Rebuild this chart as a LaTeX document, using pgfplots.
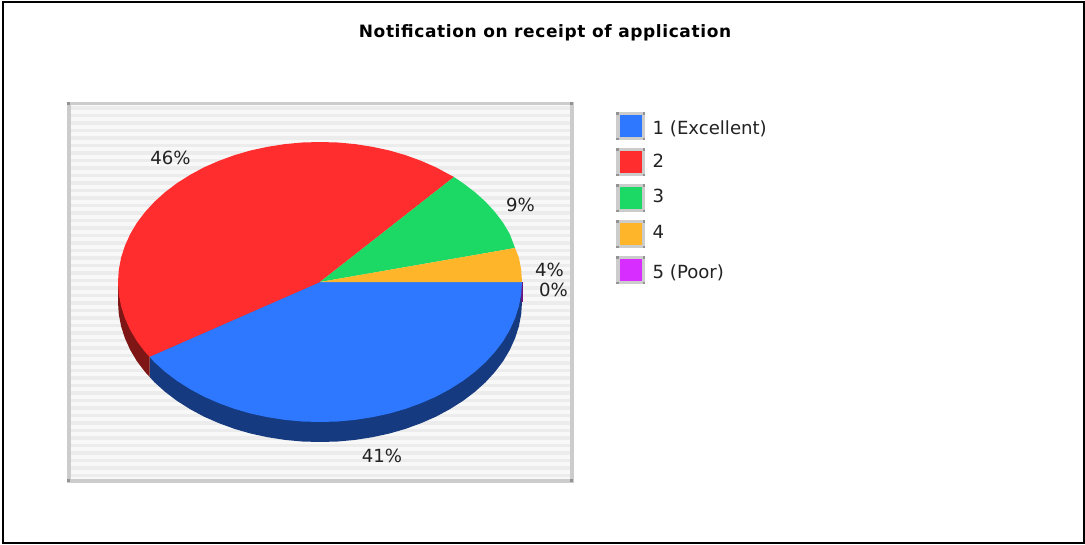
\documentclass[border=0pt]{standalone}
\usepackage{pgfplots}
\pgfplotsset{compat=1.18}
\usepackage{fontspec}
\setmainfont{DejaVu Sans}
\newfontfamily\titlefont[LetterSpace=3.6]{DejaVu Sans Bold}
\definecolor{cblue}{HTML}{2E78FF}
\definecolor{cred}{HTML}{FF2D2D}
\definecolor{cgreen}{HTML}{1BD964}
\definecolor{corange}{HTML}{FFB52A}
\definecolor{cpurple}{HTML}{D82DFF}
\definecolor{dblue}{HTML}{163A80}
\definecolor{dred}{HTML}{7F1616}
\definecolor{dpurple}{HTML}{6C1680}
\definecolor{frameg}{HTML}{CCCCCC}
\definecolor{cornerg}{HTML}{939393}
\definecolor{stripe}{HTML}{ECECEC}
\definecolor{stripebg}{HTML}{F8F8F8}
\definecolor{txt}{HTML}{222222}
\begin{document}
\begin{tikzpicture}
\begin{axis}[
  scale only axis, width=1085pt, height=544pt,
  xmin=0, xmax=1085, ymin=0, ymax=544, y dir=reverse,
  axis lines=none, clip=false,
  every axis plot/.append style={draw=none, forget plot},
]
% page
\addplot[fill=white] coordinates {(0,0)(1085,0)(1085,544)(0,544)} --cycle;
% plot background
\addplot[fill=stripebg] coordinates {(68,102)(572,102)(572,482)(68,482)} --cycle;
\pgfplotsinvokeforeach{108,115.5,123,130.5,138,145.5,153,160.5,168,175.5,183,190.5,198,205.5,213,220.5,228,235.5,243,250.5,258,265.5,273,280.5,288,295.5,303,310.5,318,325.5,333,340.5,348,355.5,363,370.5,378,385.5,393,400.5,408,415.5,423,430.5,438,445.5,453,460.5,468,475.5}{
  \draw[stripe, line width=3.5pt] (axis cs:70,#1) -- (axis cs:570,#1);
}
\addplot[fill=frameg] coordinates {(66.5,101.5)(573.5,101.5)(573.5,105)(66.5,105)} --cycle;
\addplot[fill=frameg] coordinates {(66.5,479)(573.5,479)(573.5,482.5)(66.5,482.5)} --cycle;
\addplot[fill=frameg] coordinates {(66.5,101.5)(70.5,101.5)(70.5,482.5)(66.5,482.5)} --cycle;
\addplot[fill=frameg] coordinates {(569.5,101.5)(573.5,101.5)(573.5,482.5)(569.5,482.5)} --cycle;
\addplot[fill=cornerg] coordinates {(67,102)(70,102)(70,105)(67,105)} --cycle;
\addplot[fill=cornerg] coordinates {(570,102)(573,102)(573,105)(570,105)} --cycle;
\addplot[fill=cornerg] coordinates {(67,479)(70,479)(70,482)(67,482)} --cycle;
\addplot[fill=cornerg] coordinates {(570,479)(573,479)(573,482)(570,482)} --cycle;
% side walls
\addplot[fill=dblue] coordinates {(522,282)(522,302)(521.2,314.2)(518.9,326.3)(515.1,338.2)(509.8,349.9)(503.1,361.2)(494.9,372)(485.5,382.3)(474.7,392)(462.8,401)(449.8,409.2)(435.9,416.7)(421,423.2)(405.4,428.9)(389.1,433.6)(372.3,437.2)(355.1,439.9)(337.6,441.5)(320,442)(302.4,441.5)(284.9,439.9)(267.7,437.2)(250.9,433.6)(234.6,428.9)(219,423.2)(204.1,416.7)(190.2,409.2)(177.2,401)(165.3,392)(154.5,382.3)(149.5,376.8)(149.5,356.8)(320,282)} --cycle;
\addplot[fill=dred] coordinates {(149.5,356.8)(149.5,376.8)(145.1,372)(136.9,361.2)(130.2,349.9)(124.9,338.2)(121.1,326.3)(118.8,314.2)(118,302)(118,282)(320,282)} --cycle;
\addplot[fill=dpurple] coordinates {(520.5,282)(522.5,282)(522.5,302)(520.5,302)} --cycle;
% top slices
\addplot[fill=cblue] coordinates {(320,282)(522,282)(521.2,294.2)(518.9,306.3)(515.1,318.2)(509.8,329.9)(503.1,341.2)(494.9,352)(485.5,362.3)(474.7,372)(462.8,381)(449.8,389.2)(435.9,396.7)(421,403.2)(405.4,408.9)(389.1,413.6)(372.3,417.2)(355.1,419.9)(337.6,421.5)(320,422)(302.4,421.5)(284.9,419.9)(267.7,417.2)(250.9,413.6)(234.6,408.9)(219,403.2)(204.1,396.7)(190.2,389.2)(177.2,381)(165.3,372)(154.5,362.3)(149.5,356.8)} --cycle;
\addplot[fill=cred] coordinates {(320,282)(149.5,356.8)(145.1,352)(136.9,341.2)(130.2,329.9)(124.9,318.2)(121.1,306.3)(118.8,294.2)(118,282)(118.8,269.8)(121.1,257.7)(124.9,245.8)(130.2,234.1)(136.9,222.8)(145.1,212)(154.5,201.7)(165.3,192)(177.2,183)(190.2,174.8)(204.1,167.3)(219,160.8)(234.6,155.1)(250.9,150.4)(267.7,146.8)(284.9,144.1)(302.4,142.5)(320,142)(337.6,142.5)(355.1,144.1)(372.3,146.8)(389.1,150.4)(405.4,155.1)(421,160.8)(435.9,167.3)(449.8,174.8)(454,177)} --cycle;
\addplot[fill=cgreen] coordinates {(320,282)(454,177)(462.8,183)(474.7,192)(485.5,201.7)(494.9,212)(503.1,222.8)(509.8,234.1)(515,248)} --cycle;
\addplot[fill=corange] coordinates {(320,282)(515,248)(518.9,257.7)(521.2,269.8)(522,282)} --cycle;
% legend swatches
\addplot[fill=frameg] coordinates {(616,112)(645,112)(645,140)(616,140)} --cycle;
\addplot[fill=cblue] coordinates {(619.5,115)(641.5,115)(641.5,136.5)(619.5,136.5)} --cycle;
\addplot[fill=frameg] coordinates {(616,148)(645,148)(645,176)(616,176)} --cycle;
\addplot[fill=cred] coordinates {(619.5,151)(641.5,151)(641.5,172.5)(619.5,172.5)} --cycle;
\addplot[fill=frameg] coordinates {(616,184)(645,184)(645,212)(616,212)} --cycle;
\addplot[fill=cgreen] coordinates {(619.5,187)(641.5,187)(641.5,208.5)(619.5,208.5)} --cycle;
\addplot[fill=frameg] coordinates {(616,220)(645,220)(645,248)(616,248)} --cycle;
\addplot[fill=corange] coordinates {(619.5,223)(641.5,223)(641.5,244.5)(619.5,244.5)} --cycle;
\addplot[fill=frameg] coordinates {(616,256)(645,256)(645,284)(616,284)} --cycle;
\addplot[fill=cpurple] coordinates {(619.5,259)(641.5,259)(641.5,280.5)(619.5,280.5)} --cycle;
\pgfplotsinvokeforeach{112,148,184,220,256}{
  \fill[cornerg] (axis cs:616,#1) rectangle (axis cs:618.5,#1+2.5);
  \fill[cornerg] (axis cs:642.5,#1) rectangle (axis cs:645,#1+2.5);
  \fill[cornerg] (axis cs:616,#1+25.5) rectangle (axis cs:618.5,#1+28);
  \fill[cornerg] (axis cs:642.5,#1+25.5) rectangle (axis cs:645,#1+28);
}
% outer frame
\draw[black, line width=2pt] (axis cs:3,1.5) rectangle (axis cs:1083.5,543);
% texts
\node[text=black, font=\titlefont\fontsize{17}{20}\selectfont] at (axis cs:545,33) {Notification on receipt of application};
\tikzset{lab/.style={text=txt, font=\fontsize{18.1}{20}\selectfont, inner sep=0pt}}
\node[lab, anchor=base] at (axis cs:170.5,164.5) {46\%};
\node[lab, anchor=base] at (axis cs:520.5,211.5) {9\%};
\node[lab, anchor=base] at (axis cs:549.5,276.5) {4\%};
\node[lab, anchor=base] at (axis cs:553.5,296.5) {0\%};
\node[lab, anchor=base] at (axis cs:382,462.5) {41\%};
\node[lab, anchor=base west] at (axis cs:652.5,134.5) {1 (Excellent)};
\node[lab, anchor=base west] at (axis cs:652.5,167) {2};
\node[lab, anchor=base west] at (axis cs:652.5,202.5) {3};
\node[lab, anchor=base west] at (axis cs:652.5,238.5) {4};
\node[lab, anchor=base west] at (axis cs:652.5,278.5) {5 (Poor)};
\end{axis}
\end{tikzpicture}
\end{document}
